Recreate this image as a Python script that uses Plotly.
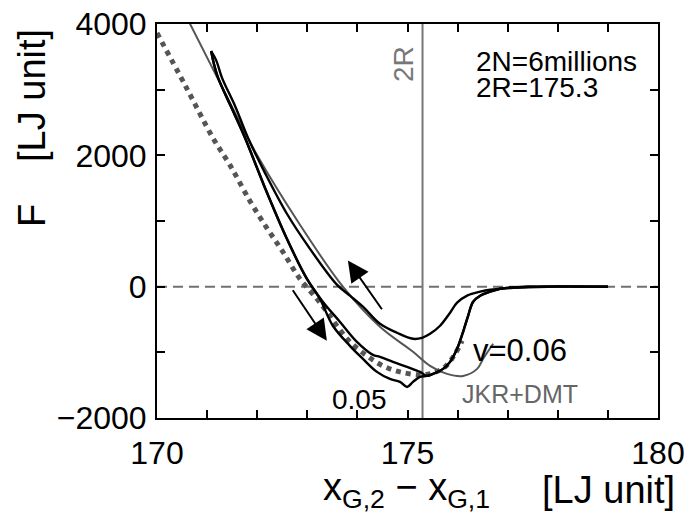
import plotly.graph_objects as go

# ---------------- data ----------------
x_ticks = [170, 171, 172, 173, 174, 175, 176, 177, 178, 179, 180]
x_tick_text = ["170", "", "", "", "", "175", "", "", "", "", "180"]
y_ticks = [-2000, -1000, 0, 1000, 2000, 3000, 4000]
y_tick_text = ["\u22122000", "", "0", "", "2000", "", "4000"]

two_R = 175.3

# simulation, v=0.06 (upper branch)
x_v006_up = [171.08, 171.18, 171.30, 171.56, 171.82, 172.16, 172.59, 173.05, 173.59, 173.85,
             174.11, 174.45, 174.79, 175.11, 175.29, 175.45, 175.65, 175.85, 175.99, 176.19,
             176.45, 176.65, 177.25, 178.04, 179.00]
F_v006_up = [3588, 3450, 3176, 2748, 2260, 1725, 1114, 580, 31, -137,
             -305, -565, -702, -794, -779, -718, -595, -397, -244, -137,
             -76, -46, -15, 0, 0]

# simulation, v=0.06 (lower branch)
x_v006_low = [171.08, 171.20, 171.52, 171.76, 172.16, 172.59, 172.99, 173.31, 173.65, 173.99,
              174.31, 174.45, 174.71, 174.99, 175.25, 175.39, 175.51, 175.71, 175.85, 175.99,
              176.11, 176.21, 176.31, 176.45, 176.65, 176.85, 177.45, 179.00]
F_v006_low = [3588, 3221, 2672, 2260, 1496, 733, 122, -229, -534, -840,
              -1038, -1069, -1145, -1221, -1298, -1359, -1328, -1252, -1145, -947,
              -687, -443, -229, -137, -76, -31, 0, 0]

# simulation, v=0.05 (lowest branch)
x_v005 = [171.08, 171.20, 171.52, 171.76, 172.16, 172.59, 172.99, 173.25, 173.51, 173.85,
          174.11, 174.39, 174.65, 174.85, 174.99, 175.11, 175.25, 175.39, 175.51, 175.71,
          175.85, 175.99, 176.11, 176.21, 176.31, 176.45, 176.65, 176.85, 177.45, 179.00]
F_v005 = [3588, 3221, 2672, 2260, 1496, 733, 122, -183, -595, -901,
          -1099, -1298, -1405, -1450, -1527, -1450, -1374, -1359, -1328, -1252,
          -1145, -947, -687, -443, -229, -137, -76, -31, 0, 0]

# JKR+DMT theory (solid gray)
x_jkr = [170.64, 171.32, 172.00, 172.85, 173.71, 174.45, 175.11, 175.45, 175.79, 176.11,
         176.39, 176.51, 176.71]
F_jkr = [4031, 3008, 2000, 947, 0, -611, -992, -1206, -1328, -1359,
         -1252, -1099, -870]

# dotted theory curve (thick gray dots)
x_dot = [170.00, 170.56, 171.12, 171.46, 171.86, 172.20, 172.51, 172.85, 173.19, 173.39,
         173.59, 173.85, 174.19, 174.51, 174.85, 175.25, 175.51, 175.75, 175.95, 176.09]
F_dot = [3863, 3069, 2260, 1847, 1298, 885, 534, 122, -183, -382,
         -595, -840, -1053, -1206, -1298, -1343, -1313, -1221, -1023, -824]

# arrows: (tail x, tail F, head x, head F)
arrow_approach = (174.51, -366, 173.81, 397)
arrow_retract = (172.69, -31, 173.39, -824)

FONT = "Liberation Sans, Arial, Helvetica, sans-serif"

fig = go.Figure()

fig.add_trace(go.Scatter(x=x_dot, y=F_dot, mode="lines", line=dict(color="#555555", width=5, dash="dot"),
                         line_shape="spline", showlegend=False, hoverinfo="skip"))
fig.add_trace(go.Scatter(x=x_jkr, y=F_jkr, mode="lines", line=dict(color="#555555", width=2),
                         line_shape="spline", showlegend=False, hoverinfo="skip"))
for xs, ys in [(x_v005, F_v005), (x_v006_low, F_v006_low), (x_v006_up, F_v006_up)]:
    fig.add_trace(go.Scatter(x=xs, y=ys, mode="lines", line=dict(color="black", width=2.4),
                             line_shape="spline", showlegend=False, hoverinfo="skip"))

fig.add_hline(y=0, line=dict(color="#707070", width=2, dash="10px,6px"), layer="below")
fig.add_vline(x=two_R, line=dict(color="#777777", width=2), layer="below")

for tx, ty, hx, hy in [arrow_approach, arrow_retract]:
    fig.add_annotation(x=hx, y=hy, ax=tx, ay=ty, xref="x", yref="y", axref="x", ayref="y",
                       text="", showarrow=True, arrowhead=2, arrowsize=2.1, arrowwidth=2,
                       arrowcolor="black")

def txt(x, y, s, size, color="black", angle=0, xanchor="center", xref="x", yref="y"):
    fig.add_annotation(x=x, y=y, xref=xref, yref=yref, text=s, showarrow=False,
                       font=dict(family=FONT, size=size, color=color), textangle=angle,
                       xanchor=xanchor, yanchor="middle")

txt(176.33, 3435, "2N=6millions", 28, xanchor="left")
txt(176.33, 3038, "2R=175.3", 28, xanchor="left")
txt(174.91, 3389, "2R", 28, color="#777777", angle=-90)
txt(177.25, -977, "v=0.06", 31)
txt(174.05, -1725, "0.05", 28)
txt(177.25, -1634, "JKR+DMT", 25, color="#666666")

# axis titles (paper coords are relative to the plot area)
txt(-0.2495, 0.5127, "F", 38, angle=-90, xref="paper", yref="paper")
txt(-0.2495, 0.8173, "[LJ unit]", 38, angle=-90, xref="paper", yref="paper")
txt(0.499, -0.1827, "x<sub>G,2</sub> \u2212 x<sub>G,1</sub>", 38, xref="paper", yref="paper")
txt(0.9002, -0.1827, "[LJ unit]", 38, xref="paper", yref="paper")

axis_common = dict(showgrid=False, zeroline=False, showline=True, linecolor="black", linewidth=2,
                   mirror="ticks", ticks="inside", ticklen=8, tickwidth=2, tickcolor="black",
                   automargin=False, ticklabeloverflow="allow",
                   tickfont=dict(family=FONT, size=32, color="black"))
fig.update_xaxes(range=[170, 180], tickmode="array", tickvals=x_ticks, ticktext=x_tick_text,
                 ticklabelstandoff=6, **axis_common)
fig.update_yaxes(range=[-2000, 4000], tickmode="array", tickvals=y_ticks, ticktext=y_tick_text,
                 ticklabelstandoff=2, **axis_common)

fig.update_layout(width=690, height=520, margin=dict(l=157, r=32, t=24, b=102),
                  paper_bgcolor="white", plot_bgcolor="white", showlegend=False,
                  font=dict(family=FONT), hovermode=False)

# remove the browser's default 8px body margin so the figure sits at the page origin
fig.write_html("out.html", config={"displayModeBar": False},
               post_script="document.body.style.margin='0';document.body.style.overflow='hidden';")
